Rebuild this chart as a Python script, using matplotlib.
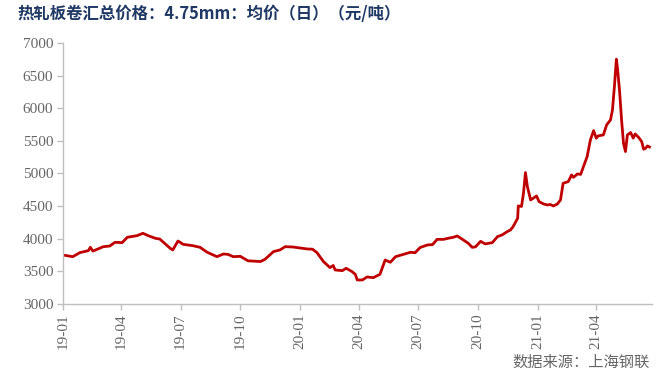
import matplotlib.pyplot as plt
import matplotlib.dates as mdates
import numpy as np
import pandas as pd

plt.rcParams['font.family'] = ['Noto Sans CJK SC', 'DejaVu Sans']

# 数据：日期与均价（元/吨）
fechas = ['2019-01-01', '2019-01-16', '2019-01-27', '2019-02-09', '2019-02-12', '2019-02-16',
          '2019-03-04', '2019-03-14', '2019-03-22', '2019-04-02', '2019-04-10', '2019-04-25',
          '2019-05-04', '2019-05-12', '2019-05-23', '2019-05-30', '2019-06-15', '2019-06-19',
          '2019-06-27', '2019-07-05', '2019-07-20', '2019-07-31', '2019-08-11', '2019-08-26',
          '2019-09-05', '2019-09-12', '2019-09-20', '2019-10-01', '2019-10-13', '2019-10-16',
          '2019-11-01', '2019-11-08', '2019-11-21', '2019-12-01', '2019-12-09', '2019-12-21',
          '2020-01-12', '2020-01-20', '2020-01-27', '2020-02-06', '2020-02-16', '2020-02-21',
          '2020-02-24', '2020-03-06', '2020-03-12', '2020-03-21', '2020-03-26', '2020-03-29',
          '2020-04-06', '2020-04-13', '2020-04-23', '2020-05-03', '2020-05-11', '2020-05-19',
          '2020-05-27', '2020-06-08', '2020-06-19', '2020-06-26', '2020-07-04', '2020-07-15',
          '2020-07-23', '2020-07-30', '2020-08-09', '2020-08-16', '2020-08-24', '2020-08-30',
          '2020-09-07', '2020-09-16', '2020-09-22', '2020-09-27', '2020-10-05', '2020-10-12',
          '2020-10-23', '2020-10-31', '2020-11-07', '2020-11-15', '2020-11-20', '2020-11-24',
          '2020-12-01', '2020-12-02', '2020-12-07', '2020-12-10', '2020-12-13', '2020-12-16',
          '2020-12-21', '2020-12-25', '2020-12-30', '2021-01-03', '2021-01-10', '2021-01-16',
          '2021-01-20', '2021-01-25', '2021-01-31', '2021-02-05', '2021-02-09', '2021-02-17',
          '2021-02-22', '2021-02-25', '2021-03-03', '2021-03-08', '2021-03-12', '2021-03-18',
          '2021-03-23', '2021-03-28', '2021-04-01', '2021-04-04', '2021-04-12', '2021-04-17',
          '2021-04-23', '2021-04-26', '2021-04-29', '2021-05-02', '2021-05-04', '2021-05-07',
          '2021-05-10', '2021-05-13', '2021-05-16', '2021-05-19', '2021-05-24', '2021-05-28',
          '2021-05-31', '2021-06-05', '2021-06-10', '2021-06-13', '2021-06-16', '2021-06-19',
          '2021-06-22']
precios = [3750, 3725, 3787, 3817, 3868, 3810,
           3878, 3888, 3945, 3940, 4022, 4047,
           4083, 4047, 4007, 3995, 3853, 3828,
           3965, 3914, 3893, 3868, 3792, 3725,
           3766, 3760, 3725, 3730, 3660, 3660,
           3650, 3685, 3802, 3828, 3878, 3873,
           3843, 3840, 3787, 3650, 3558, 3590,
           3521, 3511, 3547, 3496, 3455, 3368,
           3368, 3414, 3404, 3455, 3674, 3639,
           3725, 3760, 3792, 3785, 3866, 3904,
           3910, 3990, 3990, 4007, 4022, 4042,
           3990, 3930, 3868, 3875, 3960, 3920,
           3940, 4032, 4058, 4109, 4134, 4185,
           4313, 4502, 4495, 4697, 5013, 4798,
           4594, 4620, 4655, 4568, 4532, 4517,
           4525, 4502, 4530, 4594, 4849, 4875,
           4977, 4940, 4992, 4985, 5095, 5257,
           5513, 5656, 5540, 5575, 5590, 5743,
           5820, 5973, 6331, 6750, 6586, 6254,
           5820, 5463, 5335, 5590, 5626, 5540,
           5605, 5555, 5488, 5371, 5386, 5421,
           5405]

ticks_x = ['2019-01-01', '2019-04-01', '2019-07-01', '2019-10-01', '2020-01-01',
           '2020-04-01', '2020-07-01', '2020-10-01', '2021-01-01', '2021-04-01']
ticks_y = [3000, 3500, 4000, 4500, 5000, 5500, 6000, 6500, 7000]

fechas = pd.to_datetime(fechas)
ticks_x = pd.to_datetime(ticks_x)

fig = plt.figure(figsize=(6.6, 3.76), dpi=100)
ax = fig.add_axes([0.0955, 0.1915, 0.8925, 0.6945])

ax.plot(fechas, precios, color='#C00000', linewidth=2)

ax.set_ylim(3000, 7000)
ax.set_yticks(ticks_y)
ax.set_xlim(pd.Timestamp('2019-01-01'), pd.Timestamp('2021-06-26'))
ax.set_xticks(ticks_x)
ax.xaxis.set_major_formatter(mdates.DateFormatter('%y-%m'))

for lab in ax.get_xticklabels() + ax.get_yticklabels():
    lab.set_fontfamily('Liberation Serif')
    lab.set_fontsize(11)
    lab.set_color('#666666')
plt.setp(ax.get_xticklabels(), rotation=90)

for s in ['top', 'right']:
    ax.spines[s].set_visible(False)
for s in ['left', 'bottom']:
    ax.spines[s].set_color('#BFBFBF')
    ax.spines[s].set_linewidth(1)
ax.tick_params(axis='both', color='#BFBFBF', length=4, width=1, pad=3)

fig.text(0.027, 0.962, '热轧板卷汇总价格：4.75mm：均价（日）（元/吨）',
         fontsize=11.8, fontweight='bold', color='#1F3864', va='center', ha='left')
fig.text(0.985, 0.037, '数据来源：上海钢联', fontsize=11, color='#666666',
         va='center', ha='right')

fig.savefig('out.png', dpi=100)
